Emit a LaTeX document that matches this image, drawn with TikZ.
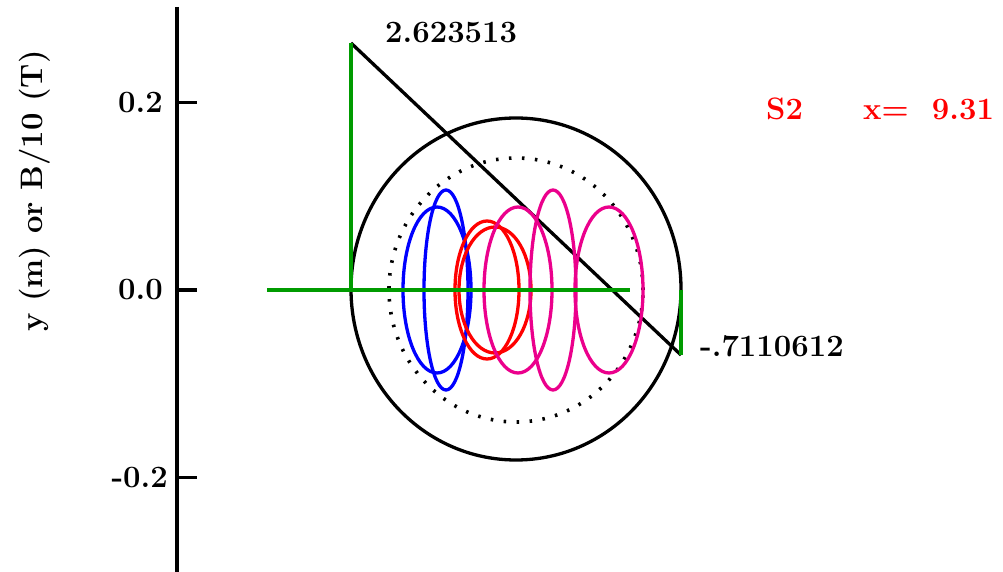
\documentclass[tikz,border=0pt]{standalone}
\usepackage{tikz}
\definecolor{TraceGreen}{HTML}{009B00}
\definecolor{TraceMagenta}{HTML}{EB008C}
\tikzset{
  trace/.style={line width=3.3pt},
  axisline/.style={line width=3.6pt,black},
  plotlabel/.style={font=\fontsize{31}{36}\selectfont\bfseries,inner sep=0pt},
}

\begin{document}
\begin{tikzpicture}[x=1pt,y=1pt]
      \useasboundingbox (-177,-282) rectangle (826,290);
      \draw[axisline] (0,283)--(0,-282);
      \foreach \v/\lab/\dx [count=\i] in {187.5/0.2/-14,0/0.0/-14,-187.5/-0.2/-9} {
        \draw[axisline] (0,\v)--(20,\v);
        \node[plotlabel,anchor=east] (tick\i) at (\dx,\v) {\lab};
      }
      \node[plotlabel,rotate=90,anchor=base] (ylabel) at (-134,99) {y (m) or B/10 (T)};
      % field line and wall
      \draw[trace,black] (174,247)--(504,-65);
      \draw[trace,black] (339,1) ellipse [x radius=165,y radius=171];
      \draw[black,line width=3.6pt,dash pattern=on 2.5pt off 10.5pt]
      (339,0) ellipse [x radius=127,y radius=132];
      % beam envelopes
      \draw[trace,blue] (260,0) ellipse [x radius=34,y radius=83];
      \draw[trace,blue] (269,0) ellipse [x radius=22,y radius=100];
      \draw[trace,red] (310,0) ellipse [x radius=32,y radius=69];
      \draw[trace,red] (318,0) ellipse [x radius=36,y radius=63];
      \draw[trace,TraceMagenta] (341,0) ellipse [x radius=34,y radius=83];
      \draw[trace,TraceMagenta] (376,0) ellipse [x radius=23,y radius=100];
      \draw[trace,TraceMagenta] (432,0) ellipse [x radius=34,y radius=83];
      \draw[trace,TraceGreen] (90,0)--(453,0);
      \draw[trace,TraceGreen] (174,0)--(174,247);
      \draw[trace,TraceGreen] (504,0)--(504,-65);
      \node[plotlabel,anchor=base west] (topval) at (208,247) {2.623513};
      \node[plotlabel,anchor=base west] (botval) at (523,-67) {-.7110612};
      \node[plotlabel,red,anchor=base west] (surf) at (589,170) {S2};
      \node[plotlabel,red,anchor=base west] (xpos) at (686,170) {x=\ \ 9.31};
    \end{tikzpicture}
\end{document}
